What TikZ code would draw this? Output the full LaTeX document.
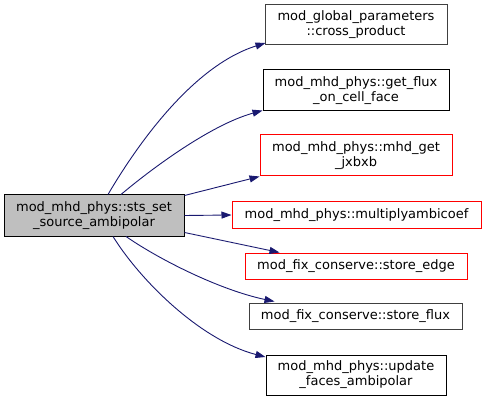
\documentclass[tikz,border=0pt]{standalone}
\usepackage{fontspec}
\setmainfont{DejaVu Sans}
\usetikzlibrary{arrows.meta,calc}
\definecolor{edgeblue}{HTML}{191970}
\definecolor{srcfill}{HTML}{BFBFBF}
\definecolor{boxgray}{HTML}{404040}
\tikzset{
  fbox/.style={draw, line width=1pt, inner sep=0pt, align=center,
    font=\fontsize{13}{15}\selectfont},
  blackbox/.style={fbox, draw=black},
  graybox/.style={fbox, draw=boxgray},
  redbox/.style={fbox, draw=red},
  srcbox/.style={fbox, draw=black, fill=srcfill},
  calledge/.style={draw=edgeblue, line width=0.9pt,
    -{Triangle[length=10pt,width=7pt,fill=edgeblue]}},
}
\begin{document}
\begin{tikzpicture}[x=1pt,y=-1pt]
\useasboundingbox (0,0) rectangle (485,401);
\node[srcbox, minimum width=180pt, minimum height=41pt] (src) at (94,215.5) {mod\_mhd\_phys::sts\_set\\\_source\_ambipolar};
\node[graybox, minimum width=182pt, minimum height=40pt] (t1) at (356,25) {mod\_global\_parameters\\::cross\_product};
\node[blackbox, minimum width=186pt, minimum height=41pt] (t2) at (356,90.5) {mod\_mhd\_phys::get\_flux\\\_on\_cell\_face};
\node[redbox, minimum width=192pt, minimum height=41pt] (t3) at (356,155.5) {mod\_mhd\_phys::mhd\_get\\\_jxbxb};
\node[redbox, minimum width=249pt, minimum height=26pt] (t4) at (356.5,215) {mod\_mhd\_phys::multiplyambicoef};
\node[redbox, minimum width=222pt, minimum height=26pt] (t5) at (356,266) {mod\_fix\_conserve::store\_edge};
\node[graybox, minimum width=213pt, minimum height=26pt] (t6) at (355.5,316) {mod\_fix\_conserve::store\_flux};
\node[blackbox, minimum width=180pt, minimum height=40pt] (t7) at (356,375) {mod\_mhd\_phys::update\\\_faces\_ambipolar};

\draw[calledge] ($(src.north)+(14,0)$) .. controls (140,140) and (195,65) .. ($(t1.west)+(1,18)$);
\draw[calledge] ($(src.north)+(27,0)$) .. controls (150,170) and (210,125) .. ($(t2.west)+(0,20)$);
\draw[calledge] ($(src.north east)+(0,1)$) -- ($(t3.west)+(0,21)$);
\draw[calledge] (src.east) -- (t4.west);
\draw[calledge] ($(src.south east)+(0,-4)$) -- ($(t5.north west)+(35,0)$);
\draw[calledge] ($(src.south)+(32,0)$) .. controls (160,260) and (220,290) .. ($(t6.north west)+(26,-1)$);
\draw[calledge] ($(src.south)+(19,0)$) .. controls (140,280) and (200,340) .. ($(t7.west)+(0,-18)$);
\end{tikzpicture}
\end{document}
